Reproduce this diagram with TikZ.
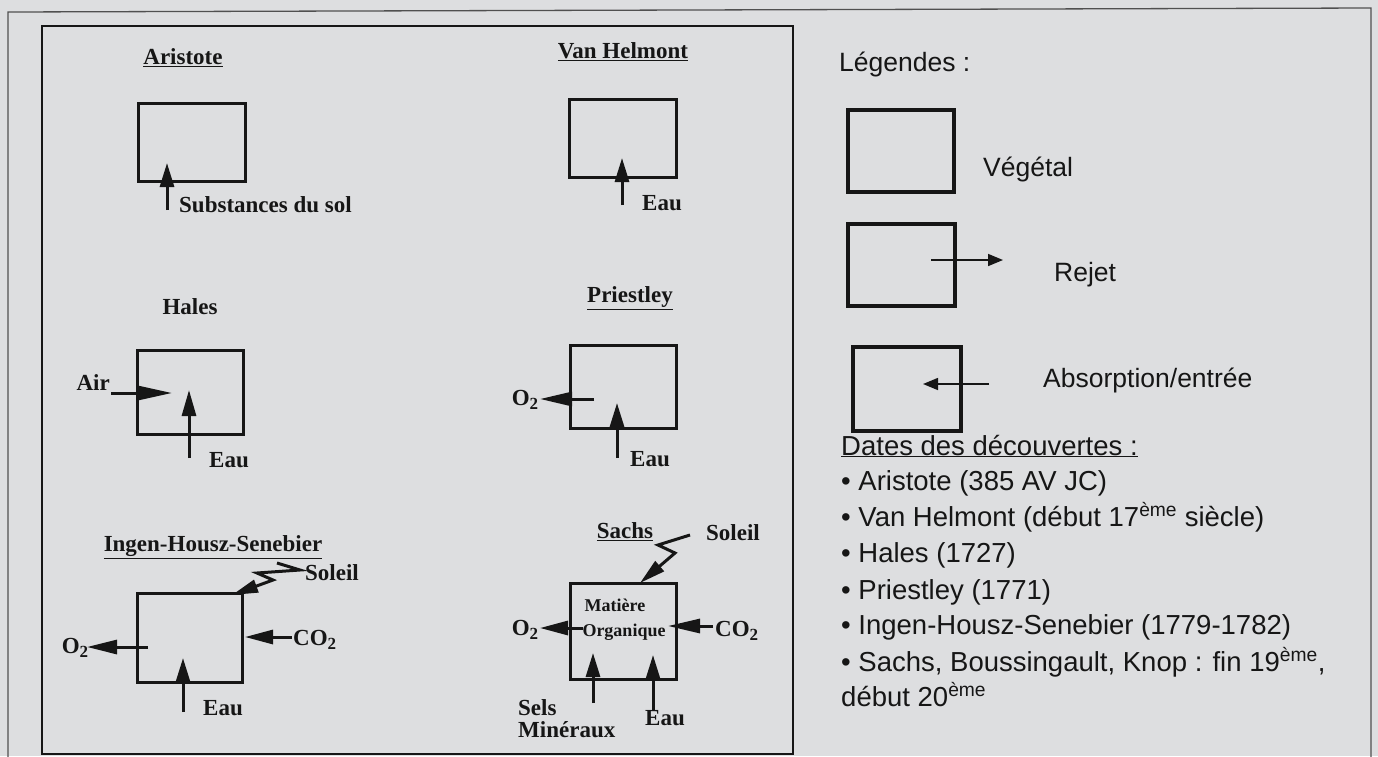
\documentclass[tikz,border=0pt]{standalone}
\usepackage{fontspec}
\setmainfont{Liberation Serif}
\setsansfont{Liberation Sans}
\usetikzlibrary{arrows.meta}
\definecolor{bg}{RGB}{221,222,224}
\definecolor{ink}{RGB}{22,22,22}
\definecolor{frame}{RGB}{80,80,80}
\tikzset{
  plant/.style={draw=ink, line width=3pt, inner sep=0pt, minimum width=#1},
  legbox/.style={draw=ink, line width=3.5pt, inner sep=0pt},
  lab/.style={font=\fontsize{23}{26}\selectfont\bfseries, text=ink, inner sep=0pt},
  small/.style={font=\fontsize{18}{20}\selectfont\bfseries, text=ink, inner sep=0pt},
  stxt/.style={font=\sffamily\fontsize{26.5}{30}\selectfont, text=ink, inner sep=0pt, anchor=base west},
  dtxt/.style={font=\sffamily\fontsize{27.5}{30}\selectfont, text=ink, inner sep=0pt, anchor=base west},
  flow/.style={draw=ink, line width=3pt, -{Triangle[length=#1,width=14pt]}},
  flow/.default=24pt,
  thinflow/.style={draw=ink, line width=1.6pt, -{Triangle[length=15pt,width=12pt]}},
  bolt/.style={draw=ink, line width=3pt, line join=miter, -{Triangle[length=26pt,width=13pt]}}
}
\newcommand{\sbt}[1]{\raisebox{-0.35ex}{\fontsize{17}{17}\selectfont #1}}
\begin{document}
\begin{tikzpicture}[x=1pt,y=-1pt]
\useasboundingbox (0,0) rectangle (1378,756);
\fill[bg] (0,0) rectangle (1378,756);
% outer page frame
\draw[frame, line width=1.3pt] (8,760) -- (8,12) -- (1371,8) -- (1371,760);
% inner panel
\node[draw=ink, line width=2.8pt, inner sep=0pt, minimum width=751pt, minimum height=728pt] (panel) at (417.5,390) {};

% ---------- Aristote ----------
\node[lab] (tAri) at (183,58) {\underline{Aristote}};
\node[plant=107pt, minimum height=78pt] (bAri) at (191.5,142) {};
\coordinate (aAriS) at (167,210); \coordinate (aAriE) at (167,163);
\draw[flow] (aAriS) -- (aAriE);
\node[lab, anchor=west] (lAri) at (179,205) {Substances du sol};

% ---------- Van Helmont ----------
\node[lab] (tVH) at (623,52) {\underline{Van Helmont}};
\node[plant=107pt, minimum height=78pt] (bVH) at (622.5,138) {};
\coordinate (aVHS) at (622,205); \coordinate (aVHE) at (622,158);
\draw[flow] (aVHS) -- (aVHE);
\node[lab, anchor=west] (lVH) at (642,203) {Eau};

% ---------- Hales ----------
\node[lab] (tHal) at (190,307) {Hales};
\node[plant=106pt, minimum height=84pt] (bHal) at (190,392) {};
\coordinate (aHalAS) at (111,393); \coordinate (aHalAE) at (172,393);
\draw[flow=34pt] (aHalAS) -- (aHalAE);
\node[lab, anchor=east] (lHalA) at (110,383) {Air};
\coordinate (aHalWS) at (189,458); \coordinate (aHalWE) at (189,390);
\draw[flow=26pt] (aHalWS) -- (aHalWE);
\node[lab, anchor=west] (lHalW) at (209,460) {Eau};

% ---------- Priestley ----------
\node[lab] (tPri) at (630,298) {\underline{Priestley}};
\node[plant=106pt, minimum height=83pt] (bPri) at (623,386.5) {};
\coordinate (aPriOS) at (594,399); \coordinate (aPriOE) at (540,399);
\draw[flow=32pt] (aPriOS) -- (aPriOE);
\node[lab] (lPriO) at (525,400) {O\sbt{2}};
\coordinate (aPriWS) at (617,458); \coordinate (aPriWE) at (617,403);
\draw[flow] (aPriWS) -- (aPriWE);
\node[lab, anchor=west] (lPriW) at (630,459) {Eau};

% ---------- Ingen-Housz-Senebier ----------
\node[lab] (tIng) at (213,547) {\underline{Ingen-Housz-Senebier}};
\node[plant=105pt, minimum height=89pt] (bIng) at (189.5,637.5) {};
\coordinate (sIng0) at (277,563); \coordinate (sIng1) at (300,570);
\coordinate (sIng2) at (257,573); \coordinate (sIng3) at (273,580);
\coordinate (sIng4) at (232,595);
\draw[bolt] (sIng0) -- (sIng1) -- (sIng2) -- (sIng3) -- (sIng4);
\node[lab, anchor=west] (lIngS) at (305,573) {Soleil};
\coordinate (aIngOS) at (148,647); \coordinate (aIngOE) at (87,647);
\draw[flow=30pt] (aIngOS) -- (aIngOE);
\node[lab] (lIngO) at (75,648) {O\sbt{2}};
\coordinate (aIngCS) at (292,637); \coordinate (aIngCE) at (245,637);
\draw[flow=28pt] (aIngCS) -- (aIngCE);
\node[lab, anchor=west] (lIngC) at (293,640) {CO\sbt{2}};
\coordinate (aIngWS) at (183,712); \coordinate (aIngWE) at (183,658);
\draw[flow] (aIngWS) -- (aIngWE);
\node[lab, anchor=west] (lIngW) at (203,708) {Eau};

% ---------- Sachs ----------
\node[lab] (tSac) at (625,532) {\underline{Sachs}};
\node[lab] (lSacS) at (733,533) {Soleil};
\node[plant=106pt, minimum height=96pt] (bSac) at (623,631) {};
\coordinate (sSac0) at (690,535); \coordinate (sSac1) at (658,545);
\coordinate (sSac2) at (675,553); \coordinate (sSac3) at (640,583);
\draw[bolt] (sSac0) -- (sSac1) -- (sSac2) -- (sSac3);
\node[small] (lSacM1) at (615,605) {Matière};
\node[small] (lSacM2) at (624,632) {Organique};
\coordinate (aSacOS) at (583,628); \coordinate (aSacOE) at (540,628);
\draw[flow=28pt] (aSacOS) -- (aSacOE);
\node[lab] (lSacO) at (525,630) {O\sbt{2}};
\coordinate (aSacCS) at (713,626); \coordinate (aSacCE) at (668,626);
\draw[flow=32pt] (aSacCS) -- (aSacCE);
\node[lab, anchor=west] (lSacC) at (715,631) {CO\sbt{2}};
\coordinate (aSacMS) at (593,703); \coordinate (aSacME) at (593,653);
\draw[flow] (aSacMS) -- (aSacME);
\coordinate (aSacWS) at (653,710); \coordinate (aSacWE) at (653,655);
\draw[flow] (aSacWS) -- (aSacWE);
\node[lab, anchor=west] (lSacM) at (518,708) {Sels};
\node[lab, anchor=west] (lSacMb) at (518,730) {Minéraux};
\node[lab, anchor=west] (lSacW) at (645,718) {Eau};

% ---------- Legend ----------
\node[stxt] (leg) at (839,71) {Légendes :};
\node[legbox, minimum width=106pt, minimum height=82pt] (lb1) at (901,151) {};
\node[stxt] (lv) at (983,176) {Végétal};
\node[legbox, minimum width=107pt, minimum height=82pt] (lb2) at (901.5,265) {};
\coordinate (rS) at (931,260); \coordinate (rE) at (1003,260);
\draw[thinflow] (rS) -- (rE);
\node[stxt] (lr) at (1054,281) {Rejet};
\node[legbox, minimum width=108pt, minimum height=84pt] (lb3) at (907,389) {};
\coordinate (abS) at (989,384); \coordinate (abE) at (923,384);
\draw[thinflow] (abS) -- (abE);
\node[stxt] (lab3) at (1043,387) {Absorption/entrée};

% ---------- Dates ----------
\node[dtxt] (dt) at (841,455) {\underline{Dates des découvertes :}};
\node[dtxt] (d1) at (841,490) {• Aristote (385 AV JC)};
\node[dtxt] (d2) at (841,526) {• Van Helmont (début 17\textsuperscript{ème} siècle)};
\node[dtxt] (d3) at (841,562) {• Hales (1727)};
\node[dtxt] (d4) at (841,599) {• Priestley (1771)};
\node[dtxt] (d5) at (841,634) {• Ingen-Housz-Senebier (1779-1782)};
\node[dtxt] (d6) at (841,671) {• Sachs, Boussingault, Knop : fin 19\textsuperscript{ème},};
\node[dtxt] (d7) at (841,706) {début 20\textsuperscript{ème}};
\end{tikzpicture}
\end{document}
